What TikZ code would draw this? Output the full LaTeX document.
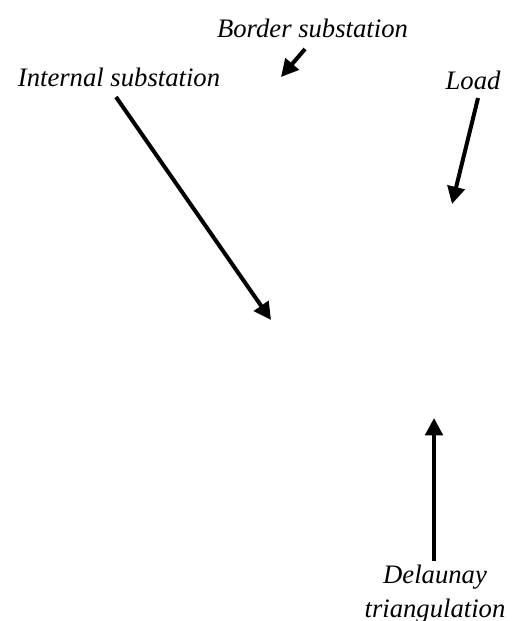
\documentclass[tikz,border=0pt]{standalone}
\usepackage{fontspec}
\setmainfont{Liberation Serif}
\usetikzlibrary{arrows.meta}
\tikzset{lab/.style={font=\fontsize{20pt}{25.5pt}\selectfont\itshape,inner sep=0pt,align=center,text=black},
arr/.style={line width=3pt,-{Triangle[length=13pt,width=13pt]}}}
\begin{document}
\begin{tikzpicture}[x=1pt,y=-1pt,scale=0.75]
\useasboundingbox (0,0) rectangle (512,621);
\node[lab] (border) at (312.5,28) {Border substation};
\node[lab] (internal) at (119,77) {Internal substation};
\node[lab] (load) at (473,80) {Load};
\node[lab] (del) at (435,594) {Delaunay\\triangulation};
\coordinate (a1s) at (305,49);
\coordinate (a1e) at (281,77);
\coordinate (a2s) at (116,97);
\coordinate (a2e) at (271,320);
\coordinate (a3s) at (478,98);
\coordinate (a3e) at (452,204);
\coordinate (a4s) at (434,561);
\coordinate (a4e) at (434,418);
\draw[arr] (a1s) -- (a1e);
\draw[arr] (a2s) -- (a2e);
\draw[arr] (a3s) -- (a3e);
\draw[arr] (a4s) -- (a4e);
\end{tikzpicture}
\end{document}
